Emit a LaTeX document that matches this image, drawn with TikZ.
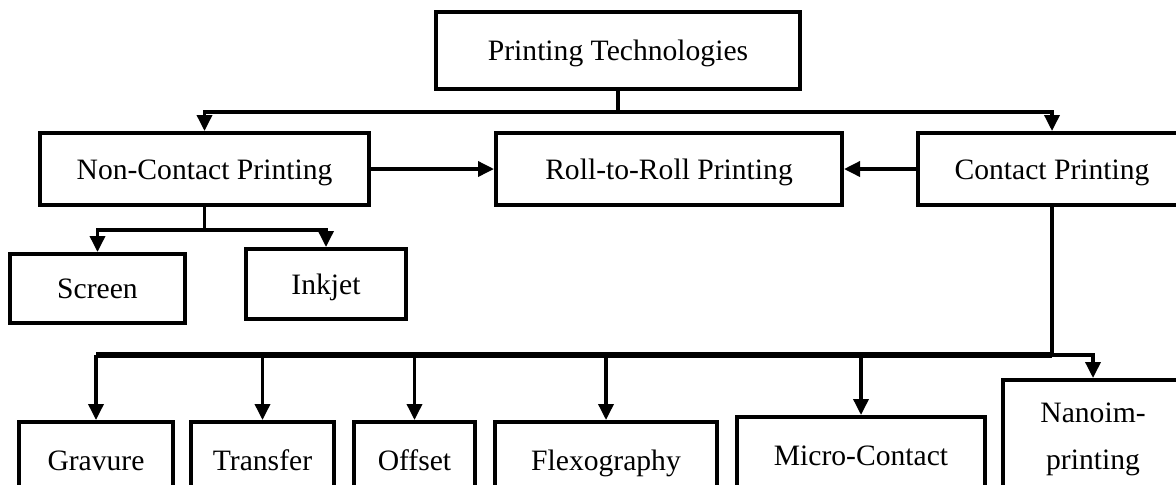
\documentclass[tikz,border=0pt]{standalone}
\usepackage{fontspec}
\setmainfont{Liberation Serif}
\usetikzlibrary{arrows.meta,calc}
\tikzset{
  box/.style={draw=black, line width=2pt, fill=white, inner sep=0pt, text height=10pt, text depth=0pt, font=\fontsize{14.8pt}{17pt}\selectfont, text=black},
  arr/.style={line width=1.75pt, -{Triangle[length=8pt,width=7.5pt]}},
  plain/.style={line width=1.75pt},
  bus/.style={line width=2.6pt}
}
\begin{document}
\begin{tikzpicture}[x=0.5pt,y=-0.5pt]
\clip (0,0) rectangle (1176,484);
\fill[white] (0,0) rectangle (1176,484);
\node[box, minimum width=182pt, minimum height=38.5pt] (top) at (618,50.5) {Printing Technologies};
\node[box, minimum width=164.5pt, minimum height=36pt] (noncontact) at (204.5,169) {Non-Contact Printing};
\node[box, minimum width=173pt, minimum height=36pt] (roll) at (669,169) {Roll-to-Roll Printing};
\node[box, minimum width=134pt, minimum height=36pt] (contact) at (1052,169) {Contact Printing};
\node[box, minimum width=87.5pt, minimum height=34.5pt] (screen) at (97.5,288.5) {Screen};
\node[box, minimum width=80pt, minimum height=35pt] (inkjet) at (326,284) {Inkjet};
\node[box, minimum width=77pt, minimum height=38pt] (gravure) at (96,460) {Gravure};
\node[box, minimum width=71.5pt, minimum height=38pt] (transfer) at (262.5,460) {Transfer};
\node[box, minimum width=60.5pt, minimum height=38pt] (offset) at (414.5,460) {Offset};
\node[box, minimum width=111pt, minimum height=38pt] (flexo) at (606,460) {Flexography};
\node[box, minimum width=124pt, minimum height=38pt] (micro) at (861,455) {Micro-Contact};
\node[box, minimum width=90pt, minimum height=59pt, align=center, text height=, text depth=, font=\fontsize{14.8pt}{23.5pt}\selectfont] (nano) at (1093,439) {Nanoim-\\printing};
% top level
\draw[plain] (top.south) -- ++(0,21) coordinate (tbus);
\draw[arr] (tbus) -| (noncontact.north);
\draw[arr] (tbus) -| (contact.north);
% middle arrows
\draw[arr] (noncontact.east) -- (roll.west);
\draw[arr] (contact.west) -- (roll.east);
% non-contact children
\draw[plain] (noncontact.south) -- ++(0,23) coordinate (nbus);
\draw[arr] (nbus) -| (screen.north);
\draw[arr] (nbus) -| (inkjet.north);
% contact children
\draw[plain, line width=2pt] (contact.south) -- ++(0,148) coordinate (cbus);
\coordinate (cbusL) at (gravure.north |- cbus);
\draw[bus] (cbus) -- (cbusL);
\draw[arr] (cbusL) -- (gravure.north);
\draw[arr] (transfer.north |- cbus) -- (transfer.north);
\draw[arr] (offset.north |- cbus) -- (offset.north);
\draw[arr] (flexo.north |- cbus) -- (flexo.north);
\draw[arr] (micro.north |- cbus) -- (micro.north);
\draw[arr] (cbus) -| (nano.north);
\end{tikzpicture}
\end{document}
